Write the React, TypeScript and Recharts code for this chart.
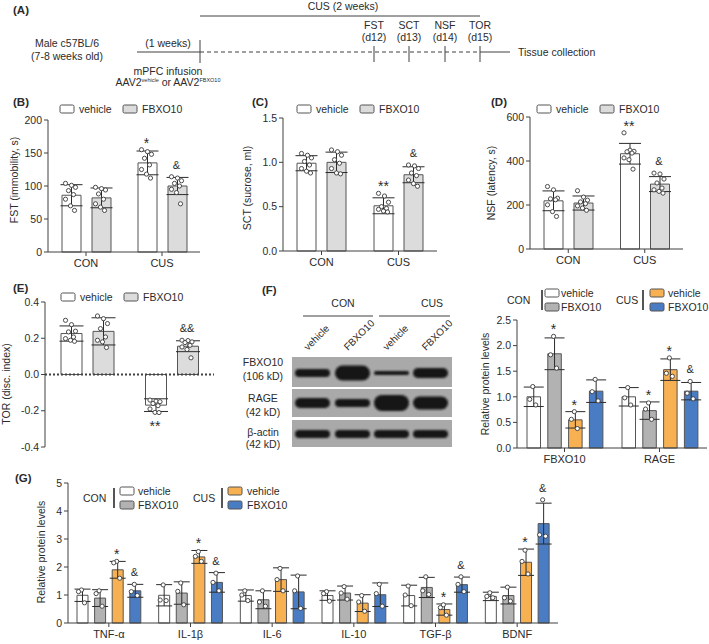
import { Bar, ComposedChart, ErrorBar, ReferenceLine, Scatter, XAxis, YAxis } from "recharts";

const FONT = '"Liberation Sans", Arial, Helvetica, sans-serif';
const AXIS = "#404040";
const INK = "#2b2b2b";
const WHITE = "#ffffff";
const LIGHT = "#dcdcdc";
const GREY = "#b2b2b2";
const ORANGE = "#f7b153";
const BLUE = "#4a7cc3";

// ---- behaviour tests (B-E) ----
const behaviourGroups = ["CON", "CUS"];

const fstVehicle = [86, 135];
const fstVehicleSd = [16, 18];
const fstVehicleDots = [[104, 101, 98, 93, 87, 80, 70, 63], [155, 152, 148, 142, 132, 125, 118, 112]];
const fstVehicleMarks = ["", "*"];
const fstFbxo = [82, 100];
const fstFbxoSd = [15, 13];
const fstFbxoDots = [[98, 96, 94, 88, 80, 73, 68, 63], [114, 112, 108, 104, 100, 95, 90, 73]];
const fstFbxoMarks = ["", "&"];

const sctVehicle = [0.99, 0.51];
const sctVehicleSd = [0.085, 0.09];
const sctVehicleDots = [[1.1, 1.08, 1.05, 1.01, 0.97, 0.93, 0.9, 0.88], [0.65, 0.62, 0.55, 0.5, 0.48, 0.47, 0.45, 0.44]];
const sctVehicleMarks = ["", "**"];
const sctFbxo = [1.0, 0.86];
const sctFbxoSd = [0.115, 0.09];
const sctFbxoDots = [[1.14, 1.12, 1.08, 1.03, 0.99, 0.93, 0.88, 0.87], [0.97, 0.96, 0.93, 0.88, 0.85, 0.8, 0.76, 0.73]];
const sctFbxoMarks = ["", "&"];

const nsfVehicle = [219, 433];
const nsfVehicleSd = [45, 47];
const nsfVehicleDots = [[284, 269, 231, 228, 224, 201, 170, 148], [528, 449, 444, 442, 436, 414, 406, 363]];
const nsfVehicleMarks = ["", "**"];
const nsfFbxo = [209, 295];
const nsfFbxoSd = [32, 34];
const nsfFbxoDots = [[265, 236, 222, 214, 206, 196, 186, 176], [345, 341, 318, 300, 277, 269, 262, 254]];
const nsfFbxoMarks = ["", "&"];

const torVehicle = [0.226, -0.169];
const torVehicleSd = [0.042, 0.035];
const torVehicleDots = [[0.299, 0.275, 0.239, 0.235, 0.207, 0.198, 0.189, 0.183], [-0.141, -0.147, -0.15, -0.16, -0.172, -0.19, -0.209, -0.21]];
const torVehicleMarks = ["", "**"];
const torFbxo = [0.238, 0.156];
const torFbxoSd = [0.075, 0.03];
const torFbxoDots = [[0.323, 0.308, 0.281, 0.253, 0.207, 0.189, 0.18, 0.149], [0.189, 0.187, 0.18, 0.176, 0.161, 0.152, 0.138, 0.092]];
const torFbxoMarks = ["", "&&"];

// ---- western blot quantification (F) ----
const blotProteins = ["FBXO10", "RAGE"];
const blotConVeh = [1.0, 1.0];
const blotConVehSd = [0.19, 0.18];
const blotConVehDots = [[1.2, 0.95, 0.84], [1.18, 0.98, 0.84]];
const blotConFbxo = [1.84, 0.73];
const blotConFbxoSd = [0.31, 0.17];
const blotConFbxoDots = [[2.18, 1.82, 1.56], [0.88, 0.76, 0.56]];
const blotCusVeh = [0.55, 1.53];
const blotCusVehSd = [0.16, 0.21];
const blotCusVehDots = [[0.71, 0.56, 0.38], [1.76, 1.46, 1.4]];
const blotCusFbxo = [1.11, 1.11];
const blotCusFbxoSd = [0.22, 0.17];
const blotCusFbxoDots = [[1.34, 1.1, 0.92], [1.3, 1.07, 0.96]];
const blotConFbxoMarks = ["*", "*"];
const blotCusVehMarks = ["*", "*"];
const blotCusFbxoMarks = ["", "&"];

// ---- cytokines (G) ----
const cytokines = ["TNF-α", "IL-1β", "IL-6", "IL-10", "TGF-β", "BDNF"];
const cytConVeh = [0.99, 0.99, 0.98, 0.98, 0.98, 0.95];
const cytConVehSd = [0.22, 0.38, 0.2, 0.17, 0.37, 0.15];
const cytConVehDots = [[1.18, 1.12, 0.72], [1.36, 0.82, 0.8], [1.15, 1.0, 0.8], [1.12, 1.05, 0.78], [1.32, 1.0, 0.62], [1.08, 0.95, 0.9]];
const cytConFbxo = [0.89, 1.07, 0.83, 1.07, 1.27, 0.98];
const cytConFbxoSd = [0.3, 0.4, 0.32, 0.25, 0.36, 0.3];
const cytConFbxoDots = [[1.15, 1.05, 0.6], [1.43, 1.13, 0.65], [1.15, 0.75, 0.6], [1.3, 1.07, 0.85], [1.65, 1.15, 1.02], [1.28, 0.9, 0.78]];
const cytCusVeh = [1.9, 2.36, 1.55, 0.71, 0.48, 2.17];
const cytCusVehSd = [0.3, 0.23, 0.42, 0.3, 0.2, 0.47];
const cytCusVehDots = [[2.2, 2.15, 1.6], [2.55, 2.38, 2.2], [1.95, 1.55, 1.15], [0.98, 0.75, 0.42], [0.65, 0.55, 0.28], [2.6, 2.2, 1.75]];
const cytCusFbxo = [1.15, 1.45, 1.11, 1.01, 1.37, 3.55];
const cytCusFbxoSd = [0.23, 0.35, 0.6, 0.42, 0.27, 0.73];
const cytCusFbxoDots = [[1.38, 1.12, 0.98], [1.78, 1.45, 1.15], [1.68, 1.15, 0.52], [1.38, 1.05, 0.6], [1.65, 1.38, 1.12], [4.4, 3.15, 3.1]];
const cytCusVehMarks = ["*", "*", "", "", "*", "*"];
const cytCusFbxoMarks = ["&", "&", "", "", "&", "&"];

// ---- schematic / blot labels ----
const tests = ["FST", "SCT", "NSF", "TOR"];
const testDays = ["(d12)", "(d13)", "(d14)", "(d15)"];
const laneNames = ["vehicle", "FBXO10", "vehicle", "FBXO10"];
const fbxoBandThickness = [8, 15, 4, 10];
const rageBandThickness = [10, 8, 16, 13];
const actinBandThickness = [8, 8, 8, 8];

const jitter8 = [-5, 1, 5, -2, 3, -5, 0, 4];
const jitter3 = [0, -3, 3];

type Series = { key: string; fill: string; mean: number[]; sd: number[]; dots: number[][]; marks: string[] };

type PanelProps = {
  left: number;
  top: number;
  width: number;
  height: number;
  margin: { top: number; right: number; bottom: number; left: number };
  yWidth: number;
  xHeight: number;
  cats: string[];
  series: Series[];
  yDomain: [number, number];
  yTicks: number[];
  digits: number;
  barSize: number;
  barGap: number;
  cap: number;
  jitter: number[];
  hideX?: boolean;
  zeroDotted?: boolean;
};

const DotShape = (props: any) => (
  <circle cx={props.cx} cy={props.cy} r={2.1} fill="#fff" stroke="#3a3a3a" strokeWidth={0.9} />
);

const MarkShape = (props: any) => {
  const { cx, cy, payload } = props;
  const star = payload.text.startsWith("*");
  let y = cy - (star ? 2 : 8);
  if (payload.below) y = cy + (star ? 18 : 16);
  return (
    <text x={cx} y={y} textAnchor="middle" fontSize={star ? 14 : 11} fill={INK} fontFamily={FONT}>
      {payload.text}
    </text>
  );
};

const DotBarPanel = (p: PanelProps) => {
  const plotW = p.width - p.margin.left - p.margin.right - p.yWidth;
  const band = plotW / p.cats.length;
  const n = p.series.length;
  const total = n * p.barSize + (n - 1) * p.barGap;
  const offset = Math.floor((band - total) / 2);
  const centre = (ci: number, si: number) => ci + (offset + si * (p.barSize + p.barGap) + p.barSize / 2) / band;

  const rows = p.cats.map((cat, ci) => {
    const row: any = { cat };
    p.series.forEach((s) => {
      row[s.key] = s.mean[ci];
      row[s.key + "Sd"] = s.sd[ci];
    });
    return row;
  });

  const dots: any[] = [];
  p.series.forEach((s, si) =>
    s.dots.forEach((list, ci) =>
      list.forEach((v, k) => dots.push({ x: centre(ci, si) + p.jitter[k % p.jitter.length] / band, y: v }))
    )
  );

  const marks: any[] = [];
  p.series.forEach((s, si) =>
    s.marks.forEach((m, ci) => {
      if (!m) return;
      const below = s.mean[ci] < 0;
      const y = below
        ? Math.min(s.mean[ci] - s.sd[ci], ...s.dots[ci])
        : Math.max(s.mean[ci] + s.sd[ci], ...s.dots[ci]);
      marks.push({ x: centre(ci, si), y, text: m, below });
    })
  );

  return (
    <div style={{ position: "absolute", left: p.left, top: p.top }}>
      <ComposedChart width={p.width} height={p.height} data={rows} margin={p.margin} barGap={p.barGap}>
        <XAxis
          dataKey="cat"
          hide={p.hideX}
          height={p.xHeight}
          interval={0}
          tickSize={4}
          tickMargin={3}
          axisLine={{ stroke: AXIS }}
          tickLine={{ stroke: AXIS }}
          tick={{ fontSize: 11, fill: INK, fontFamily: FONT }}
        />
        <XAxis xAxisId="n" dataKey="x" type="number" domain={[0, p.cats.length]} hide allowDataOverflow />
        <YAxis
          width={p.yWidth}
          domain={p.yDomain}
          ticks={p.yTicks}
          interval={0}
          tickFormatter={(v: number) => v.toFixed(p.digits)}
          tickSize={4}
          tickMargin={2}
          axisLine={{ stroke: AXIS }}
          tickLine={{ stroke: AXIS }}
          tick={{ fontSize: 10.5, fill: INK, fontFamily: FONT }}
        />
        {p.zeroDotted && <ReferenceLine y={0} stroke={AXIS} strokeWidth={2} strokeDasharray="2 2" />}
        {p.series.map((s) => (
          <Bar key={s.key} dataKey={s.key} fill={s.fill} stroke="#555" strokeWidth={1} barSize={p.barSize} isAnimationActive={false}>
            <ErrorBar dataKey={s.key + "Sd"} width={p.cap} stroke={INK} strokeWidth={1} direction="y" />
          </Bar>
        ))}
        <Scatter xAxisId="n" data={dots} dataKey="y" shape={DotShape} isAnimationActive={false} />
        <Scatter xAxisId="n" data={marks} dataKey="y" shape={MarkShape} isAnimationActive={false} />
      </ComposedChart>
    </div>
  );
};

const twoSeries = (vm: number[], vs: number[], vd: number[][], vk: string[], fm: number[], fs: number[], fd: number[][], fk: string[]): Series[] => [
  { key: "vehicle", fill: WHITE, mean: vm, sd: vs, dots: vd, marks: vk },
  { key: "fbxo", fill: LIGHT, mean: fm, sd: fs, dots: fd, marks: fk },
];

const none = (len: number) => Array.from({ length: len }, () => "");

const fourSeries = (
  cv: number[], cvs: number[], cvd: number[][],
  cf: number[], cfs: number[], cfd: number[][], cfk: string[],
  uv: number[], uvs: number[], uvd: number[][], uvk: string[],
  uf: number[], ufs: number[], ufd: number[][], ufk: string[]
): Series[] => [
  { key: "conVeh", fill: WHITE, mean: cv, sd: cvs, dots: cvd, marks: none(cv.length) },
  { key: "conFbxo", fill: GREY, mean: cf, sd: cfs, dots: cfd, marks: cfk },
  { key: "cusVeh", fill: ORANGE, mean: uv, sd: uvs, dots: uvd, marks: uvk },
  { key: "cusFbxo", fill: BLUE, mean: uf, sd: ufs, dots: ufd, marks: ufk },
];

const Swatch = ({ x, y, fill }: { x: number; y: number; fill: string }) => (
  <rect x={x} y={y} width={14} height={8} rx={1.5} fill={fill} stroke="#555" strokeWidth={1} />
);

const PairLegend = ({ x, y }: { x: number; y: number }) => (
  <g fontSize={10.5}>
    <Swatch x={x} y={y - 4} fill={WHITE} />
    <text x={x + 19} y={y + 4}>vehicle</text>
    <Swatch x={x + 63} y={y - 4} fill={LIGHT} />
    <text x={x + 82} y={y + 4}>FBXO10</text>
  </g>
);

const GroupLegend = ({ label, lx, bx, sx, tx, y, fills }: { label: string; lx: number; bx: number; sx: number; tx: number; y: number; fills: string[] }) => (
  <g fontSize={10.5}>
    <text x={lx} y={y + 4}>{label}</text>
    <line x1={bx} y1={y - 10} x2={bx} y2={y + 10} stroke={INK} strokeWidth={1.6} />
    <Swatch x={sx} y={y - 11} fill={fills[0]} />
    <text x={tx} y={y - 3}>vehicle</text>
    <Swatch x={sx} y={y + 3} fill={fills[1]} />
    <text x={tx} y={y + 11}>FBXO10</text>
  </g>
);

const YLabel = ({ x, y, text }: { x: number; y: number; text: string }) => (
  <text x={x} y={y} transform={`rotate(-90 ${x} ${y})`} textAnchor="middle" dominantBaseline="central" fontSize={10.5}>
    {text}
  </text>
);

const Letter = ({ x, y, t }: { x: number; y: number; t: string }) => (
  <text x={x} y={y} fontWeight="bold" fontSize={11.5}>{t}</text>
);

const tickX = [374, 409, 445, 480];
const laneX = [312, 352, 391, 430];

const Overlay = () => (
  <svg width={709} height={644} style={{ position: "absolute", left: 0, top: 0 }} fontFamily={FONT} fill={INK}>
    <defs>
      <filter id="soft" x="-20%" y="-60%" width="140%" height="220%">
        <feGaussianBlur stdDeviation="1.2" />
      </filter>
    </defs>

    {/* (A) schematic */}
    <Letter x={13} y={14} t="(A)" />
    <g fontSize={10.5}>
      <text x={343} y={10} textAnchor="middle">CUS (2 weeks)</text>
      <line x1={200} y1={16} x2={480} y2={16} stroke={AXIS} />
      <text x={67} y={47} textAnchor="middle">Male c57BL/6</text>
      <text x={67} y={60} textAnchor="middle">(7-8 weeks old)</text>
      <text x={168} y={47} textAnchor="middle">(1 weeks)</text>
      <line x1={137} y1={52} x2={200} y2={52} stroke={AXIS} />
      <line x1={200} y1={52} x2={480} y2={52} stroke={AXIS} strokeDasharray="4 3" />
      <line x1={480} y1={52} x2={510} y2={52} stroke={AXIS} />
      <line x1={200} y1={40} x2={200} y2={63} stroke={AXIS} />
      {tests.map((t, i) => (
        <g key={t}>
          <text x={tickX[i]} y={29} textAnchor="middle">{t}</text>
          <text x={tickX[i]} y={41} textAnchor="middle">{testDays[i]}</text>
          <line x1={tickX[i]} y1={46} x2={tickX[i]} y2={62} stroke={AXIS} />
        </g>
      ))}
      <text x={518} y={56}>Tissue collection</text>
      <text x={168} y={75} textAnchor="middle">mPFC infusion</text>
      <text x={168} y={86} textAnchor="middle">
        AAV2<tspan fontSize={5.5} dy={-4}>vehicle</tspan>
        <tspan dy={4}> or AAV2</tspan>
        <tspan fontSize={5.5} dy={-4}>FBXO10</tspan>
      </text>
    </g>

    <Letter x={13} y={106} t="(B)" />
    <Letter x={252} y={106} t="(C)" />
    <Letter x={491} y={106} t="(D)" />
    <Letter x={13} y={292} t="(E)" />
    <Letter x={262} y={294} t="(F)" />
    <Letter x={15} y={482} t="(G)" />

    <PairLegend x={60} y={109} />
    <PairLegend x={297} y={109} />
    <PairLegend x={537} y={109} />
    <PairLegend x={61} y={297} />

    <YLabel x={14} y={180} text="FST (immobility, s)" />
    <YLabel x={247} y={188} text="SCT (sucrose, ml)" />
    <YLabel x={491} y={183} text="NSF (latency, s)" />
    <YLabel x={6} y={384} text="TOR (disc. index)" />
    <YLabel x={485} y={384} text="Relative protein levels" />
    <YLabel x={41} y={552} text="Relative protein levels" />

    {/* (F) blot */}
    <g fontSize={10.5}>
      <text x={343} y={307} textAnchor="middle">CON</text>
      <line x1={303} y1={316} x2={373} y2={316} stroke={AXIS} />
      <text x={432} y={307} textAnchor="middle">CUS</text>
      <line x1={379} y1={316} x2={450} y2={316} stroke={AXIS} />
      {laneNames.map((l, i) => (
        <text key={i} x={laneX[i] - 4} y={351} transform={`rotate(-45 ${laneX[i] - 4} 351)`} fontSize={10}>{l}</text>
      ))}
      <text x={263} y={366} textAnchor="middle">FBXO10</text>
      <text x={263} y={380} textAnchor="middle">(106 kD)</text>
      <text x={263} y={402} textAnchor="middle">RAGE</text>
      <text x={263} y={416} textAnchor="middle">(42 kD)</text>
      <text x={263} y={436} textAnchor="middle">β-actin</text>
      <text x={263} y={448} textAnchor="middle">(42 kD)</text>
    </g>
    {[
      { y: 357, h: 30, c: 373, t: fbxoBandThickness },
      { y: 389, h: 28, c: 403, t: rageBandThickness },
      { y: 420, h: 27, c: 434, t: actinBandThickness },
    ].map((b, bi) => (
      <g key={bi}>
        <rect x={292} y={b.y} width={160} height={b.h} fill="#a9a9a9" />
        {b.t.map((th, i) => (
          <rect key={i} x={laneX[i] - 17} y={b.c - th / 2} width={35} height={th} rx={th / 2} fill="#141414" filter="url(#soft)" />
        ))}
      </g>
    ))}

    <GroupLegend label="CON" lx={507} bx={542} sx={545} tx={561} y={300} fills={[WHITE, GREY]} />
    <GroupLegend label="CUS" lx={616} bx={643} sx={650} tx={668} y={300} fills={[ORANGE, BLUE]} />
    <GroupLegend label="CON" lx={83} bx={114} sx={120} tx={138} y={498} fills={[WHITE, GREY]} />
    <GroupLegend label="CUS" lx={193} bx={222} sx={228} tx={247} y={498} fills={[ORANGE, BLUE]} />
  </svg>
);

const App = () => (
  <div style={{ position: "absolute", left: 0, top: 0, width: 709, height: 644, background: "#fff", overflow: "hidden", fontFamily: FONT }}>
    <Overlay />
    <DotBarPanel
      left={0} top={95} width={240} height={190}
      margin={{ top: 25, right: 40, left: 0, bottom: 11 }}
      yWidth={48} xHeight={22}
      cats={behaviourGroups}
      series={twoSeries(fstVehicle, fstVehicleSd, fstVehicleDots, fstVehicleMarks, fstFbxo, fstFbxoSd, fstFbxoDots, fstFbxoMarks)}
      yDomain={[0, 200]} yTicks={[0, 50, 100, 150, 200]} digits={0}
      barSize={19} barGap={11} cap={11} jitter={jitter8}
    />
    <DotBarPanel
      left={230} top={95} width={240} height={190}
      margin={{ top: 23, right: 33, left: 0, bottom: 12 }}
      yWidth={53} xHeight={22}
      cats={behaviourGroups}
      series={twoSeries(sctVehicle, sctVehicleSd, sctVehicleDots, sctVehicleMarks, sctFbxo, sctFbxoSd, sctFbxoDots, sctFbxoMarks)}
      yDomain={[0, 1.5]} yTicks={[0, 0.5, 1.0, 1.5]} digits={1}
      barSize={19} barGap={11} cap={11} jitter={jitter8}
    />
    <DotBarPanel
      left={470} top={95} width={239} height={190}
      margin={{ top: 22, right: 26, left: 0, bottom: 14 }}
      yWidth={60} xHeight={22}
      cats={behaviourGroups}
      series={twoSeries(nsfVehicle, nsfVehicleSd, nsfVehicleDots, nsfVehicleMarks, nsfFbxo, nsfFbxoSd, nsfFbxoDots, nsfFbxoMarks)}
      yDomain={[0, 600]} yTicks={[0, 200, 400, 600]} digits={0}
      barSize={19} barGap={11} cap={11} jitter={jitter8}
    />
    <DotBarPanel
      left={0} top={285} width={240} height={170}
      margin={{ top: 17, right: 26, left: 0, bottom: 8 }}
      yWidth={45} xHeight={0}
      cats={behaviourGroups}
      series={twoSeries(torVehicle, torVehicleSd, torVehicleDots, torVehicleMarks, torFbxo, torFbxoSd, torFbxoDots, torFbxoMarks)}
      yDomain={[-0.4, 0.4]} yTicks={[-0.4, -0.2, 0, 0.2, 0.4]} digits={1}
      barSize={21} barGap={11} cap={12} jitter={jitter8}
      hideX zeroDotted
    />
    <DotBarPanel
      left={470} top={285} width={239} height={190}
      margin={{ top: 35, right: 2, left: 0, bottom: 9 }}
      yWidth={47} xHeight={18}
      cats={blotProteins}
      series={fourSeries(
        blotConVeh, blotConVehSd, blotConVehDots,
        blotConFbxo, blotConFbxoSd, blotConFbxoDots, blotConFbxoMarks,
        blotCusVeh, blotCusVehSd, blotCusVehDots, blotCusVehMarks,
        blotCusFbxo, blotCusFbxoSd, blotCusFbxoDots, blotCusFbxoMarks
      )}
      yDomain={[0, 2.5]} yTicks={[0, 0.5, 1.0, 1.5, 2.0, 2.5]} digits={1}
      barSize={13.5} barGap={7.3} cap={10} jitter={jitter3}
    />
    <DotBarPanel
      left={0} top={455} width={709} height={189}
      margin={{ top: 28, right: 151, left: 0, bottom: 3 }}
      yWidth={68} xHeight={18}
      cats={cytokines}
      series={fourSeries(
        cytConVeh, cytConVehSd, cytConVehDots,
        cytConFbxo, cytConFbxoSd, cytConFbxoDots, none(6),
        cytCusVeh, cytCusVehSd, cytCusVehDots, cytCusVehMarks,
        cytCusFbxo, cytCusFbxoSd, cytCusFbxoDots, cytCusFbxoMarks
      )}
      yDomain={[0, 5]} yTicks={[0, 1, 2, 3, 4, 5]} digits={0}
      barSize={11} barGap={6.6} cap={8} jitter={jitter3}
    />
  </div>
);

export default App;
